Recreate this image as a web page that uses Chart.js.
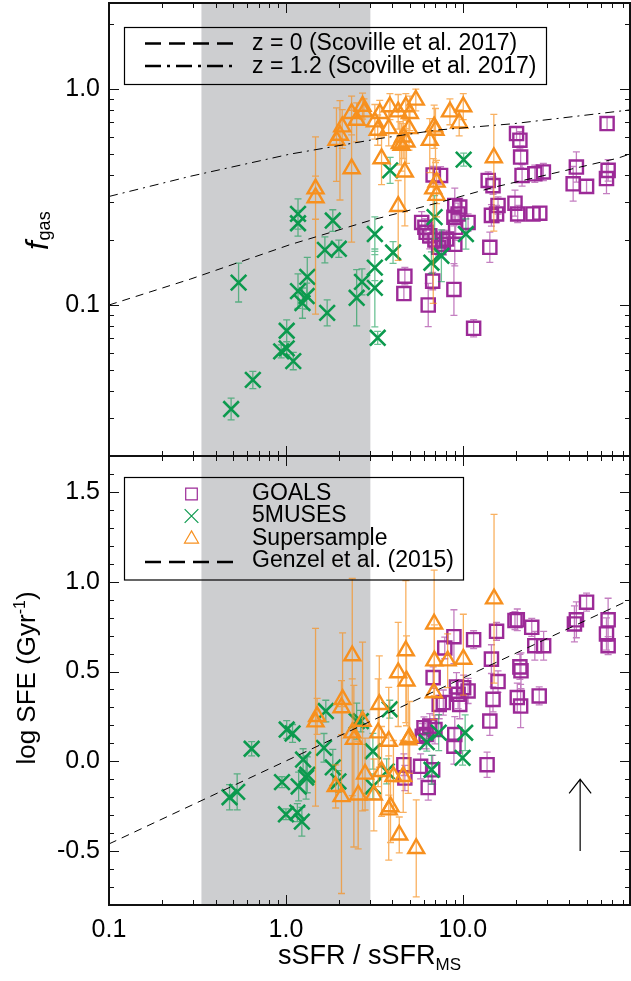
<!DOCTYPE html>
<html lang="en">
<head>
<meta charset="UTF-8">
<title>f_gas and SFE vs sSFR / sSFR_MS</title>
<style>
  html, body { margin: 0; padding: 0; background: #fff; }
  #wrap { position: relative; width: 631px; height: 981px; overflow: hidden; }
  #topChart, #botChart { position: absolute; left: 0; }
  #topChart { top: 0; }
  #botChart { top: 450px; }
</style>
</head>
<body>
<div id="wrap">
  <canvas id="botChart" width="631" height="531"></canvas>
  <canvas id="topChart" width="631" height="460"></canvas>
</div>
<script src="https://cdn.jsdelivr.net/npm/chart.js@4.4.1/dist/chart.umd.min.js"></script>
<script>
// ---- data ----
// shared x axis: sSFR / sSFR_MS (log)
const xTickValues = [0.1, 1, 10];
const xTickLabels = ['0.1', '1.0', '10.0'];
const topYTickValues = [0.1, 1];
const topYTickLabels = ['0.1', '1.0'];
const botYTickValues = [-0.5, 0, 0.5, 1.0, 1.5];
const botYTickLabels = ['-0.5', '0.0', '0.5', '1.0', '1.5'];

// shaded sSFR range
const bandLo = 0.333, bandHi = 3.0;

// top panel: f_gas (error bars in dex)
const goalsTopX = [4.70,4.64,6.37,6.75,8.9,11.5,6.79,7.48,5.85,6.1,6.2,6.5,6.95,7.75,8.1,9.0,8.9,9.4,9.1,10.7,9.0,13.9,14.8,14.2,15.8,14.5,15.5,20.1,21.0,21.2,21.6,19.7,20.4,24.9,27.2,25.5,28.5,43.8,42.0,50.0,66.2,64.8,65.3,7.3,9.6,7.7];
const goalsTopY = [0.136,0.113,0.100,0.129,0.118,0.078,0.40,0.398,0.241,0.229,0.217,0.209,0.20,0.191,0.202,0.289,0.255,0.264,0.229,0.241,0.191,0.377,0.357,0.185,0.289,0.26,0.264,0.622,0.579,0.484,0.398,0.296,0.264,0.264,0.266,0.405,0.413,0.435,0.364,0.354,0.42,0.385,0.692,0.185,0.284,0.198];
const goalsTopErr = [0.04,0.03,0.10,0.04,0.12,0.04,0.04,0.04,0.05,0.04,0.05,0.06,0.04,0.05,0.04,0.08,0.04,0.05,0.06,0.04,0.10,0.04,0.04,0.07,0.04,0.05,0.04,0.03,0.04,0.05,0.05,0.06,0.04,0.03,0.03,0.04,0.04,0.07,0.08,0.03,0.05,0.07,0.03,0.04,0.04,0.05];

const musesTopX = [0.49,0.65,0.54,0.94,1.01,1.01,1.10,1.17,1.17,1.17,1.24,1.31,1.32,1.71,1.66,1.99,1.84,2.51,2.69,3.18,3.18,3.18,3.30,3.88,4.03,6.92,6.64,7.56,10.1,10.4];
const musesTopY = [0.033,0.045,0.127,0.061,0.063,0.076,0.055,0.264,0.239,0.116,0.102,0.110,0.135,0.092,0.180,0.182,0.246,0.108,0.128,0.213,0.149,0.120,0.0705,0.42,0.175,0.255,0.157,0.169,0.471,0.213];
const musesTopErr = [0.05,0.04,0.09,0.03,0.03,0.05,0.04,0.07,0.06,0.08,0.07,0.06,0.09,0.06,0.06,0.04,0.05,0.13,0.06,0.08,0.06,0.18,0.03,0.06,0.05,0.10,0.05,0.12,0.03,0.07];

const superTopX = [1.47,1.47,1.93,2.02,2.08,2.35,2.51,2.71,2.76,2.35,3.18,3.39,3.87,3.30,3.81,3.47,4.31,4.76,5.42,4.5,4.8,4.6,4.96,4.7,4.31,6.5,7.0,6.8,7.1,7.1,8.45,10.05,9.53,14.96,5.02,4.4,6.88];
const superTopY = [0.345,0.314,0.579,0.611,0.668,0.771,0.717,0.833,0.784,0.428,0.705,0.771,0.828,0.645,0.656,0.476,0.784,0.828,0.889,0.549,0.569,0.60,0.656,0.413,0.286,0.579,0.645,0.345,0.322,0.371,0.784,0.828,0.697,0.481,0.771,0.56,0.668];
const superTopLo = [0.58,0.10,0.19,0.30,0.10,0.10,0.10,0.06,0.06,0.34,0.08,0.06,0.06,0.07,0.08,0.12,0.08,0.06,0.05,0.12,0.10,0.10,0.10,0.25,0.25,0.15,0.15,0.53,0.10,0.10,0.06,0.06,0.06,0.34,0.08,0.10,0.10];
const superTopHi = [0.24,0.10,0.15,0.16,0.08,0.08,0.08,0.06,0.06,0.27,0.08,0.06,0.06,0.07,0.08,0.10,0.08,0.06,0.05,0.10,0.10,0.10,0.10,0.20,0.12,0.10,0.10,0.14,0.10,0.10,0.06,0.06,0.06,0.20,0.08,0.10,0.10];

// Scoville et al. 2017 curves
const z0X = [0.1, 0.29, 1.05, 2.98, 7.1, 14.8, 75, 88];
const z0Y = [0.1, 0.132, 0.19, 0.246, 0.296, 0.35, 0.478, 0.5];
const z12X = [0.1, 0.287, 1.05, 3.4, 7.1, 19.1, 88];
const z12Y = [0.318, 0.394, 0.499, 0.59, 0.645, 0.69, 0.80];

// bottom panel: log SFE (Gyr^-1)
const goalsBotX = [4.64,4.7,5.77,6.37,6.75,6.03,6.2,6.5,6.95,6.79,7.35,7.75,7.9,8.9,9.0,8.9,9.4,9.6,9.2,10.7,10.1,11.5,13.7,14.2,14.8,14.5,15.5,15.8,19.7,20.3,21.0,21.3,20.3,21.2,24.5,25.5,28.6,27.0,42.7,43.8,50.0,64.8,66.2,66.2,5.9];
const goalsBotY = [-0.019,-0.093,-0.028,-0.146,-0.047,0.187,0.149,0.196,0.177,0.466,0.317,0.327,0.631,0.694,0.149,0.084,0.373,0.317,0.414,0.392,0.41,0.677,-0.019,0.224,0.345,0.569,0.724,0.444,0.784,0.788,0.526,0.504,0.355,0.308,0.746,0.644,0.644,0.364,0.765,0.788,0.886,0.709,0.788,0.644,0.14];
const goalsBotErr = [0.06,0.07,0.07,0.07,0.08,0.06,0.08,0.07,0.08,0.06,0.08,0.07,0.06,0.15,0.10,0.10,0.08,0.08,0.08,0.07,0.07,0.05,0.07,0.08,0.07,0.08,0.05,0.06,0.05,0.06,0.07,0.10,0.08,0.12,0.05,0.08,0.08,0.05,0.10,0.10,0.05,0.09,0.12,0.05,0.07];

const musesBotX = [0.48,0.53,0.64,0.95,1.01,1.09,1.00,1.16,1.23,1.18,1.25,1.30,1.32,1.68,1.64,1.84,1.98,2.51,2.65,3.1,3.1,3.86,3.71,10.3,9.96,6.65,7.3,6.25];
const musesBotY = [-0.20,-0.17,0.07,-0.116,0.177,0.155,-0.295,-0.286,-0.336,-0.14,0.01,-0.09,-0.075,0.28,0.075,-0.034,-0.112,0.224,0.224,0.056,-0.14,0.29,-0.056,0.159,0.019,-0.047,0.16,0.107];
const musesBotErr = [0.07,0.10,0.04,0.03,0.05,0.05,0.03,0.05,0.08,0.08,0.06,0.12,0.10,0.06,0.08,0.10,0.06,0.10,0.06,0.10,0.07,0.05,0.07,0.10,0.04,0.08,0.10,0.05];

const superBotX = [1.47,1.50,2.09,2.06,1.91,2.06,2.37,2.37,2.56,2.71,2.8,3.14,3.37,3.32,3.47,3.81,3.81,4.31,4.37,4.76,4.8,5.45,4.91,6.88,6.9,6.85,8.2,10.06,15.0,4.05,4.6,3.9,2.42,5.0];
const superBotY = [0.22,0.25,0.345,0.299,-0.14,-0.196,0.588,0.159,-0.187,0.224,-0.071,-0.187,0.317,0.159,-0.056,0.112,-0.27,0.494,-0.41,0.616,0.448,-0.485,0.121,0.765,0.56,0.382,0.56,0.569,0.905,-0.084,-0.084,-0.252,0.123,0.133];
const superBotLo = [0.47,0.10,0.20,0.15,0.12,0.54,0.40,0.35,0.30,0.50,0.20,0.20,0.35,0.30,0.25,0.30,0.28,0.30,0.10,0.40,0.25,0.27,0.30,0.40,0.20,0.15,0.15,0.20,0.47,0.20,0.20,0.20,0.60,0.20];
const superBotHi = [0.52,0.10,0.37,0.15,0.12,0.50,0.43,0.30,0.30,0.44,0.20,0.20,0.27,0.30,0.25,0.30,0.30,0.28,0.10,0.39,0.25,0.27,0.30,0.30,0.20,0.15,0.15,0.25,0.47,0.20,0.20,0.20,0.30,0.20];

// Genzel et al. (2015) relation
const genzelX = [0.1, 88];
const genzelY = [-0.46, 0.90];

// upward arrow in lower panel
const arrowX = 46, arrowFrom = -0.5, arrowTo = -0.1;

const topLegendLabels = ['z = 0 (Scoville et al. 2017)', 'z = 1.2 (Scoville et al. 2017)'];
const botLegendLabels = ['GOALS', '5MUSES', 'Supersample', 'Genzel et al. (2015)'];

// ---- styling ----
const FONT = '"Liberation Sans", Arial, Helvetica, sans-serif';
const PURPLE = '#9c2a97', GREEN = '#0c9a4e', ORANGE = '#f7901e';
const PURPLE_ERR = 'rgba(156,42,151,0.6)';
const GREEN_ERR = 'rgba(12,154,78,0.6)';
const ORANGE_ERR = 'rgba(247,144,30,0.7)';
const BAND_COLOR = '#cdced0';
const X_MIN = 0.1, X_MAX = 88;

Chart.defaults.font.family = FONT;
Chart.defaults.color = '#000';

function pts(xs, ys) {
  return xs.map((x, i) => ({ x: x, y: ys[i] }));
}

function markerSet(label, xs, ys, lo, hi, color, errColor, style, r, order, logErr) {
  return {
    label: label,
    data: pts(xs, ys),
    errLo: lo, errHi: hi, errColor: errColor, logErr: logErr,
    pointStyle: style,
    pointRadius: r,
    pointBorderWidth: style === 'crossRot' ? 2.6 : 2.4,
    borderColor: color,
    pointBorderColor: color,
    backgroundColor: 'rgba(0,0,0,0)',
    pointBackgroundColor: 'rgba(0,0,0,0)',
    order: order
  };
}

function lineSet(xs, ys, dash) {
  return {
    data: pts(xs, ys),
    showLine: true,
    borderColor: '#000',
    borderWidth: 1,
    borderDash: dash,
    pointRadius: 0,
    tension: 0,
    order: 0
  };
}

// minor/major tick positions for the IDL-style frame
function logTicks(min, max) {
  const out = [];
  for (let d = -3; d <= 3; d++) {
    for (let m = 1; m < 10; m++) {
      const v = m * Math.pow(10, d);
      if (v >= min * 0.999 && v <= max * 1.001) out.push({ v: v, major: m === 1 });
    }
  }
  return out;
}
function linTicks(min, max) {
  const out = [];
  for (let k = Math.ceil(min * 10); k <= Math.floor(max * 10); k++) {
    out.push({ v: k / 10, major: k % 5 === 0 });
  }
  return out;
}

function drawFrame(chart, yTicks) {
  const ctx = chart.ctx, a = chart.chartArea;
  const xs = chart.scales.x, ys = chart.scales.y;
  ctx.save();
  ctx.strokeStyle = '#111';
  ctx.lineWidth = 1;
  ctx.beginPath();
  logTicks(X_MIN, X_MAX).forEach(t => {
    const p = Math.round(xs.getPixelForValue(t.v)) + 0.5;
    const L = t.major ? 10 : 5;
    ctx.moveTo(p, a.bottom); ctx.lineTo(p, a.bottom - L);
    ctx.moveTo(p, a.top); ctx.lineTo(p, a.top + L);
  });
  yTicks.forEach(t => {
    const p = Math.round(ys.getPixelForValue(t.v)) + 0.5;
    const L = t.major ? 10 : 5;
    ctx.moveTo(a.left, p); ctx.lineTo(a.left + L, p);
    ctx.moveTo(a.right, p); ctx.lineTo(a.right - L, p);
  });
  ctx.stroke();
  ctx.lineWidth = 2;
  ctx.strokeRect(a.left, a.top, a.right - a.left, a.bottom - a.top);
  ctx.restore();
}

function decor(opts) {
  return {
    id: 'decor',
    beforeDatasetsDraw(chart) {
      const ctx = chart.ctx, a = chart.chartArea, xs = chart.scales.x;
      const x0 = xs.getPixelForValue(bandLo), x1 = xs.getPixelForValue(bandHi);
      ctx.save();
      ctx.fillStyle = BAND_COLOR;
      ctx.fillRect(x0, a.top, x1 - x0, a.bottom - a.top);
      ctx.restore();
    },
    beforeDatasetDraw(chart, args) {
      const ds = chart.data.datasets[args.index];
      if (!ds.errLo) return;
      const ctx = chart.ctx, a = chart.chartArea, ys = chart.scales.y;
      const els = args.meta.data;
      ctx.save();
      ctx.beginPath();
      ctx.rect(a.left, a.top, a.right - a.left, a.bottom - a.top);
      ctx.clip();
      ctx.strokeStyle = ds.errColor;
      ctx.lineWidth = 1.3;
      ctx.beginPath();
      ds.data.forEach((d, i) => {
        const px = els[i].x;
        const vLo = ds.logErr ? d.y / Math.pow(10, ds.errLo[i]) : d.y - ds.errLo[i];
        const vHi = ds.logErr ? d.y * Math.pow(10, ds.errHi[i]) : d.y + ds.errHi[i];
        const pLo = ys.getPixelForValue(vLo), pHi = ys.getPixelForValue(vHi);
        ctx.moveTo(px, pLo); ctx.lineTo(px, pHi);
        ctx.moveTo(px - 3.5, pLo); ctx.lineTo(px + 3.5, pLo);
        ctx.moveTo(px - 3.5, pHi); ctx.lineTo(px + 3.5, pHi);
      });
      ctx.stroke();
      ctx.restore();
    },
    afterDatasetsDraw(chart) {
      if (opts.arrow) {
        const ctx = chart.ctx;
        const px = chart.scales.x.getPixelForValue(arrowX);
        const p0 = chart.scales.y.getPixelForValue(arrowFrom);
        const p1 = chart.scales.y.getPixelForValue(arrowTo);
        ctx.save();
        ctx.strokeStyle = '#000';
        ctx.lineWidth = 1.2;
        ctx.beginPath();
        ctx.moveTo(px, p0); ctx.lineTo(px, p1);
        ctx.moveTo(px - 11, p1 + 14); ctx.lineTo(px, p1); ctx.lineTo(px + 11, p1 + 14);
        ctx.stroke();
        ctx.restore();
      }
      drawFrame(chart, opts.yTicks);
    },
    afterDraw(chart) {
      opts.extras(chart.ctx, chart);
    }
  };
}

function sample(ctx, dash, y) {
  ctx.setLineDash(dash);
  ctx.beginPath();
  ctx.moveTo(145, y); ctx.lineTo(238, y);
  ctx.stroke();
  ctx.setLineDash([]);
}

function topExtras(ctx) {
  ctx.save();
  // legend
  ctx.strokeStyle = '#000';
  ctx.lineWidth = 1.2;
  ctx.strokeRect(124.5, 27.5, 422, 57);
  ctx.lineWidth = 2.5;
  sample(ctx, [16, 8], 43.5);
  sample(ctx, [16, 6, 3, 6], 66);
  ctx.fillStyle = '#000';
  ctx.font = '23px ' + FONT;
  ctx.textBaseline = 'middle';
  ctx.fillText(topLegendLabels[0], 252, 44);
  ctx.fillText(topLegendLabels[1], 252, 67);
  // y title f_gas
  ctx.translate(48, 250);
  ctx.rotate(-Math.PI / 2);
  ctx.textBaseline = 'alphabetic';
  ctx.font = 'italic 31px ' + FONT;
  ctx.fillText('f', 0, 0);
  const w = ctx.measureText('f').width;
  ctx.font = '18px ' + FONT;
  ctx.fillText('gas', w + 1, 2);
  ctx.restore();
}

function botExtras(ctx, chart) {
  ctx.save();
  // legend
  ctx.strokeStyle = '#000';
  ctx.lineWidth = 1.2;
  ctx.strokeRect(124.5, 27.5, 339, 102.5);
  const ls = chart.data.datasets;
  const marks = [
    { ds: ls[3], y: 44 },
    { ds: ls[2], y: 66 },
    { ds: ls[1], y: 89 }
  ];
  marks.forEach(m => {
    ctx.strokeStyle = m.ds.borderColor;
    ctx.fillStyle = 'rgba(0,0,0,0)';
    Chart.helpers.drawPoint(ctx, { pointStyle: m.ds.pointStyle, radius: m.ds.pointRadius * 0.88, borderWidth: 2.8, rotation: 0 }, 191.5, m.y);
  });
  ctx.strokeStyle = '#000';
  ctx.lineWidth = 2.5;
  sample(ctx, [16, 8], 112);
  ctx.fillStyle = '#000';
  ctx.font = '23px ' + FONT;
  ctx.textBaseline = 'middle';
  botLegendLabels.forEach((t, i) => ctx.fillText(t, 252, [44, 66, 89, 111][i]));

  // x title
  const a = chart.chartArea;
  ctx.textBaseline = 'alphabetic';
  ctx.font = '27px ' + FONT;
  const w1 = ctx.measureText('sSFR / sSFR').width;
  ctx.font = '17px ' + FONT;
  const w2 = ctx.measureText('MS').width;
  const sx = (a.left + a.right) / 2 - (w1 + w2) / 2;
  ctx.font = '27px ' + FONT;
  ctx.fillText('sSFR / sSFR', sx, 514);
  ctx.font = '17px ' + FONT;
  ctx.fillText('MS', sx + w1, 520);

  // y title log SFE (Gyr^-1)
  ctx.translate(35, 228);
  ctx.rotate(-Math.PI / 2);
  ctx.font = '26px ' + FONT;
  const p1 = ctx.measureText('log SFE (Gyr').width;
  const p3 = ctx.measureText(')').width;
  ctx.font = '16px ' + FONT;
  const p2 = ctx.measureText('-1').width;
  let s = -(p1 + p2 + p3) / 2;
  ctx.font = '26px ' + FONT;
  ctx.fillText('log SFE (Gyr', s, 0);
  ctx.font = '16px ' + FONT;
  ctx.fillText('-1', s + p1, -10);
  ctx.font = '26px ' + FONT;
  ctx.fillText(')', s + p1 + p2, 0);
  ctx.restore();
}

function yScale(type, min, max, vals, labels) {
  return {
    type: type, min: min, max: max,
    grid: { display: false, drawTicks: false },
    border: { display: false },
    afterBuildTicks: s => { s.ticks = vals.map(v => ({ value: v })); },
    ticks: { font: { size: 25 }, color: '#000', padding: 9, autoSkip: false,
             callback: (v, i) => labels[i] },
    afterFit: s => { s.width = 109; s.paddingTop = 0; s.paddingBottom = 0; }
  };
}

function xScale(show) {
  return {
    type: 'logarithmic', min: X_MIN, max: X_MAX, display: show,
    grid: { display: false, drawTicks: false },
    border: { display: false },
    afterBuildTicks: s => { s.ticks = xTickValues.map(v => ({ value: v })); },
    ticks: { font: { size: 25 }, color: '#000', padding: 10, autoSkip: false, maxRotation: 0,
             callback: (v, i) => xTickLabels[i] },
    afterFit: s => { s.height = show ? 76 : 0; s.paddingLeft = 0; s.paddingRight = 0; }
  };
}

const commonOpts = {
  responsive: false,
  animation: false,
  events: [],
  plugins: { legend: { display: false }, tooltip: { enabled: false } }
};

new Chart(document.getElementById('topChart'), {
  type: 'scatter',
  data: {
    datasets: [
      lineSet(z0X, z0Y, [8, 6]),
      lineSet(z12X, z12Y, [9, 5, 2, 5]),
      markerSet('Supersample', superTopX, superTopY, superTopLo, superTopHi, ORANGE, ORANGE_ERR, 'triangle', 9.2, 1, true),
      markerSet('5MUSES', musesTopX, musesTopY, musesTopErr, musesTopErr, GREEN, GREEN_ERR, 'crossRot', 11, 2, true),
      markerSet('GOALS', goalsTopX, goalsTopY, goalsTopErr, goalsTopErr, PURPLE, PURPLE_ERR, 'rect', 9.3, 3, true)
    ]
  },
  options: Object.assign({}, commonOpts, {
    layout: { autoPadding: false, padding: { left: 0, right: 1, top: 3, bottom: 4 } },
    scales: {
      x: xScale(false),
      y: yScale('logarithmic', 0.02, 2.5, topYTickValues, topYTickLabels)
    }
  }),
  plugins: [decor({ yTicks: logTicks(0.02, 2.5), arrow: false, extras: topExtras })]
});

new Chart(document.getElementById('botChart'), {
  type: 'scatter',
  data: {
    datasets: [
      lineSet(genzelX, genzelY, [8, 6]),
      markerSet('Supersample', superBotX, superBotY, superBotLo, superBotHi, ORANGE, ORANGE_ERR, 'triangle', 9.2, 1, false),
      markerSet('5MUSES', musesBotX, musesBotY, musesBotErr, musesBotErr, GREEN, GREEN_ERR, 'crossRot', 11, 2, false),
      markerSet('GOALS', goalsBotX, goalsBotY, goalsBotErr, goalsBotErr, PURPLE, PURPLE_ERR, 'rect', 9.3, 3, false)
    ]
  },
  options: Object.assign({}, commonOpts, {
    layout: { autoPadding: false, padding: { left: 0, right: 1, top: 6, bottom: 0 } },
    scales: {
      x: xScale(true),
      y: yScale('linear', -0.8, 1.7, botYTickValues, botYTickLabels)
    }
  }),
  plugins: [decor({ yTicks: linTicks(-0.8, 1.7), arrow: true, extras: botExtras })]
});
</script>
</body>
</html>
